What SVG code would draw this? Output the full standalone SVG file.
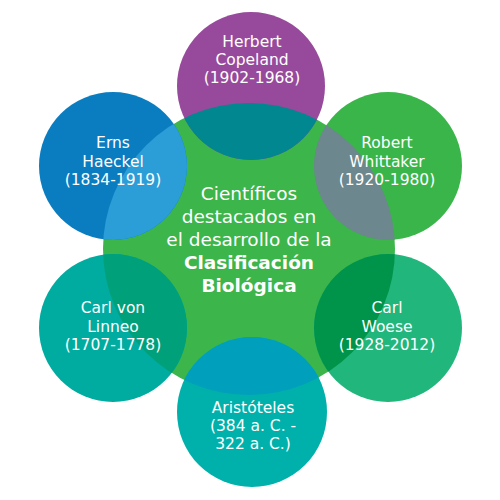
<svg xmlns="http://www.w3.org/2000/svg" width="500" height="500" viewBox="0 0 500 500">
  <style>
    .t { font-family: "DejaVu Sans", Verdana, sans-serif; font-size: 15.5px; fill: #ffffff; text-anchor: middle; }
    .c { font-family: "DejaVu Sans", Verdana, sans-serif; font-size: 18.5px; fill: #ffffff; text-anchor: middle; }
    .b { font-weight: bold; }
  </style>
  <defs>
    <clipPath id="clipCenter"><circle cx="249" cy="249" r="146"/></clipPath>
  </defs>
  <rect width="500" height="500" fill="#ffffff"/>
  <g id="center">
    <circle cx="249" cy="249" r="146" fill="#3cb54b"/>
  </g>
  <g id="copeland">
    <circle cx="251" cy="86" r="74" fill="#974a9b"/>
    <circle cx="251" cy="86" r="74" fill="#00878f" clip-path="url(#clipCenter)"/>
    <text class="t" x="252" y="47">Herbert</text>
    <text class="t" x="252" y="65">Copeland</text>
    <text class="t" x="252" y="83">(1902-1968)</text>
  </g>
  <g id="haeckel">
    <circle cx="113" cy="166" r="74" fill="#0a7dc1"/>
    <circle cx="113" cy="166" r="74" fill="#2b9dd7" clip-path="url(#clipCenter)"/>
    <text class="t" x="113" y="148">Erns</text>
    <text class="t" x="113" y="167">Haeckel</text>
    <text class="t" x="113" y="185">(1834-1919)</text>
  </g>
  <g id="whittaker">
    <circle cx="388" cy="166" r="74" fill="#39b54a"/>
    <circle cx="388" cy="166" r="74" fill="#6c878d" clip-path="url(#clipCenter)"/>
    <text class="t" x="387" y="148">Robert</text>
    <text class="t" x="387" y="167">Whittaker</text>
    <text class="t" x="387" y="185">(1920-1980)</text>
  </g>
  <g id="woese">
    <circle cx="388" cy="328" r="74" fill="#21b67b"/>
    <circle cx="388" cy="328" r="74" fill="#00934a" clip-path="url(#clipCenter)"/>
    <text class="t" x="387" y="313">Carl</text>
    <text class="t" x="387" y="332">Woese</text>
    <text class="t" x="387" y="350">(1928-2012)</text>
  </g>
  <g id="linneo">
    <circle cx="113" cy="328" r="74" fill="#00aba0"/>
    <circle cx="113" cy="328" r="74" fill="#00a07a" clip-path="url(#clipCenter)"/>
    <text class="t" x="113" y="313">Carl von</text>
    <text class="t" x="113" y="332">Linneo</text>
    <text class="t" x="113" y="350">(1707-1778)</text>
  </g>
  <g id="aristoteles">
    <circle cx="252" cy="412" r="75" fill="#00b1ab"/>
    <circle cx="252" cy="412" r="75" fill="#009fbc" clip-path="url(#clipCenter)"/>
    <text class="t" x="253" y="413">Aristóteles</text>
    <text class="t" x="253" y="431">(384 a. C. -</text>
    <text class="t" x="253" y="449">322 a. C.)</text>
  </g>
  <g id="title">
    <text class="c" x="249" y="200">Científicos</text>
    <text class="c" x="249" y="223">destacados en</text>
    <text class="c" x="249" y="246">el desarrollo de la</text>
    <text class="c b" x="249" y="269">Clasificación</text>
    <text class="c b" x="249" y="292">Biológica</text>
  </g>
  <g id="connectors"></g>
</svg>
